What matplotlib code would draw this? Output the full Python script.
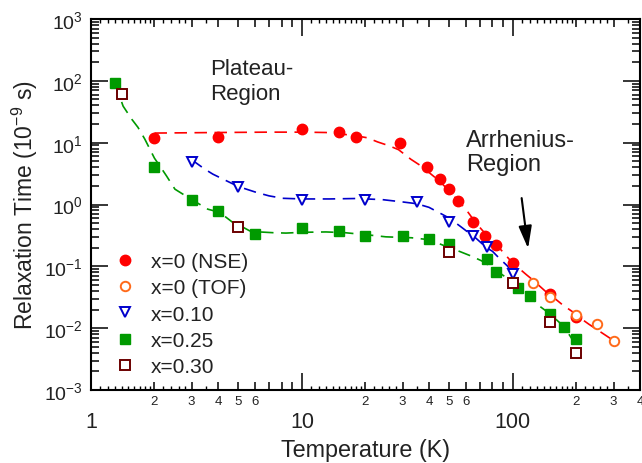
import numpy as np
import matplotlib
matplotlib.use("Agg")
import matplotlib.pyplot as plt
from matplotlib.ticker import FixedLocator, FuncFormatter, NullFormatter

plt.rcParams['font.family'] = ['Liberation Sans', 'DejaVu Sans']
plt.rcParams['mathtext.default'] = 'regular'
txt = '#222222'

# measured points
nse_T = [2, 4, 10, 15, 18, 29, 39, 45, 50, 55, 65, 74, 83, 100, 150, 200]
nse_tau = [12.0, 12.3, 16.4, 14.7, 12.5, 9.9, 4.0, 2.6, 1.77, 1.13, 0.52, 0.31, 0.22, 0.113, 0.0355, 0.0149]

tof_T = [124, 150, 200, 250, 300]
tof_tau = [0.0535, 0.032, 0.0162, 0.0116, 0.0062]

x10_T = [3, 5, 10, 20, 35, 50, 65, 75, 100]
x10_tau = [4.9, 1.93, 1.19, 1.19, 1.1, 0.53, 0.31, 0.207, 0.074]

x25_T = [1.3, 2, 3, 4, 6, 10, 15, 20, 30, 40, 50, 75, 83, 106, 120, 150, 174, 200]
x25_tau = [92, 3.98, 1.19, 0.79, 0.332, 0.41, 0.367, 0.312, 0.31, 0.275, 0.234,
           0.131, 0.081, 0.044, 0.033, 0.0169, 0.0103, 0.0068]

x30_T = [1.4, 5, 50, 100, 150, 200]
x30_tau = [61, 0.44, 0.168, 0.0535, 0.0126, 0.0039]

# dashed guide curves
red_fit_T = [2, 4, 7, 10, 13, 15.4, 18.3, 20.4, 22.8, 25.9, 28.7, 32.8, 36.7, 40.9,
             44.8, 49.8, 59.8, 66.5, 74.4, 86, 99, 116, 123, 142, 153, 172, 191, 212, 229, 300]
red_fit_tau = [14.3, 14.6, 14.8, 14.8, 14.6, 13.8, 12.8, 12.0, 10.3, 8.9, 7.7, 5.4, 4.2, 3.1,
               2.4, 1.67, 0.84, 0.51, 0.33, 0.2, 0.116, 0.073, 0.062, 0.040, 0.033, 0.0238,
               0.0186, 0.014, 0.0116, 0.0063]

blue_fit_T = [3, 3.46, 3.78, 4.3, 5, 6.08, 6.98, 8.1, 10, 13.5, 18, 24, 30, 35, 40,
              46, 50, 57, 61, 65, 75, 80, 86, 94, 100]
blue_fit_tau = [5.3, 3.74, 3.1, 2.5, 1.95, 1.57, 1.38, 1.26, 1.23, 1.23, 1.25, 1.2, 1.1,
                1.03, 0.9, 0.7, 0.6, 0.43, 0.36, 0.31, 0.2, 0.175, 0.136, 0.102, 0.076]

green_fit_T = [1.3, 1.42, 1.56, 1.67, 1.8, 2, 2.12, 2.28, 2.5, 3, 3.27, 3.58, 4, 4.22,
               4.71, 5.25, 5.65, 6.3, 7.3, 8.4, 10, 13, 16, 21, 25, 33, 40, 52, 55, 63,
               71, 80, 100, 120, 130, 150, 175, 191, 200]
green_fit_tau = [92, 39, 24, 17.7, 11.4, 5.6, 4.2, 2.9, 1.77, 1.2, 1.01, 0.84, 0.76, 0.68,
                 0.51, 0.43, 0.375, 0.36, 0.35, 0.345, 0.355, 0.36, 0.35, 0.32, 0.30, 0.29,
                 0.27, 0.19, 0.178, 0.148, 0.123, 0.095, 0.055, 0.034, 0.0244, 0.017,
                 0.0105, 0.0066, 0.0062]

red = '#ff0000'
orange = '#ff6a1a'
blue = '#0000cc'
green = '#009a00'
brown = '#6b0000'

fig = plt.figure(figsize=(6.42, 4.64), dpi=100)
ax = fig.add_axes([0.1417, 0.1573, 0.8551, 0.7996])
ax.set_xscale('log')
ax.set_yscale('log')
ax.set_xlim(1, 400)
ax.set_ylim(1e-3, 1e3)

dash = (0, (7.5, 4.5))
ax.plot(red_fit_T, red_fit_tau, color=red, lw=1.2, ls=dash, zorder=2)
ax.plot(blue_fit_T, blue_fit_tau, color=blue, lw=1.2, ls=dash, zorder=2)
ax.plot(green_fit_T, green_fit_tau, color=green, lw=1.2, ls=dash, zorder=2)

h1, = ax.plot(nse_T, nse_tau, 'o', ms=7.5, color=red, mec=red, ls='none', zorder=4, label='x=0 (NSE)')
h2, = ax.plot(tof_T, tof_tau, 'o', ms=6.8, mfc='white', mec=orange, mew=1.4, ls='none', zorder=5, label='x=0 (TOF)')
h3, = ax.plot(x10_T, x10_tau, 'v', ms=7.5, mfc='white', mec=blue, mew=1.4, ls='none', zorder=4, label='x=0.10')
h4, = ax.plot(x25_T, x25_tau, 's', ms=7, color=green, mec=green, ls='none', zorder=3, label='x=0.25')
h5, = ax.plot(x30_T, x30_tau, 's', ms=6.5, mfc='white', mec=brown, mew=1.4, ls='none', zorder=5, label='x=0.30')

leg = ax.legend(handles=[h1, h2, h3, h4, h5], loc='upper left', bbox_to_anchor=(0.028, 0.394),
                borderaxespad=0, frameon=False, fontsize=15, handlelength=1.0,
                handletextpad=0.75, labelspacing=0.35, borderpad=0.4)
for t in leg.get_texts():
    t.set_color(txt)

# ticks
for s in ax.spines.values():
    s.set_linewidth(1.5)

ax.xaxis.set_major_locator(FixedLocator([1, 10, 100]))
ax.xaxis.set_major_formatter(FuncFormatter(lambda v, p: '%d' % round(v)))
minor_x = [m * d for d in (1, 10, 100) for m in range(2, 10) if m * d <= 400]
ax.xaxis.set_minor_locator(FixedLocator(minor_x))


def minor_lab(v, p):
    m = v / 10 ** np.floor(np.log10(v) + 1e-9)
    m = int(round(m))
    return str(m) if m in (2, 3, 4, 5, 6) else ''


ax.xaxis.set_minor_formatter(FuncFormatter(minor_lab))

ax.yaxis.set_major_locator(FixedLocator([10.0 ** k for k in range(-3, 4)]))
ax.yaxis.set_major_formatter(FuncFormatter(lambda v, p: '$10^{%d}$' % round(np.log10(v))))
ax.yaxis.set_minor_locator(FixedLocator([m * 10.0 ** k for k in range(-3, 3) for m in range(2, 10)]))
ax.yaxis.set_minor_formatter(NullFormatter())

ax.tick_params(which='both', direction='in', top=True, right=True, colors='black', width=1.1)
ax.tick_params(which='major', length=12.5)
ax.tick_params(which='minor', length=6)
ax.tick_params(axis='x', which='major', pad=15, labelsize=15.5, labelcolor=txt)
ax.tick_params(axis='x', which='minor', pad=3.5, labelsize=9.5, labelcolor=txt)
ax.tick_params(axis='y', which='major', pad=6, labelsize=14, labelcolor=txt)

# the small extra ticks of the x axis
tiny = [m * d for d in (1, 10, 100)
        for m in (1.1, 1.2, 1.3, 1.4, 1.5, 1.6, 1.7, 1.8, 1.9, 2.2, 2.4, 2.6, 2.8, 3.5)
        if m * d <= 400]
xt = ax.get_xaxis_transform()
ax.vlines(tiny, 0, 0.011, transform=xt, color='black', lw=1.0, zorder=6, clip_on=False)
ax.vlines(tiny, 0.989, 1, transform=xt, color='black', lw=1.0, zorder=6, clip_on=False)

ax.set_xlabel('Temperature (K)', fontsize=16.8, color=txt, labelpad=4.5)
ax.set_ylabel('Relaxation Time (10$^{-9}$ s)', fontsize=16.5, color=txt, labelpad=2.5)

ax.text(0.217, 0.894, 'Plateau-\nRegion', transform=ax.transAxes, fontsize=16,
        color=txt, va='top', ha='left', linespacing=1.22)
ax.text(0.683, 0.704, 'Arrhenius-\nRegion', transform=ax.transAxes, fontsize=17,
        color=txt, va='top', ha='left', linespacing=1.1)
ax.annotate('', xy=(118, 0.195), xytext=(110, 1.27),
            arrowprops=dict(arrowstyle='-|>,head_length=0.85,head_width=0.25',
                            mutation_scale=16, lw=1.5, color='black',
                            shrinkA=0, shrinkB=0))

fig.savefig('out.png', dpi=100)
